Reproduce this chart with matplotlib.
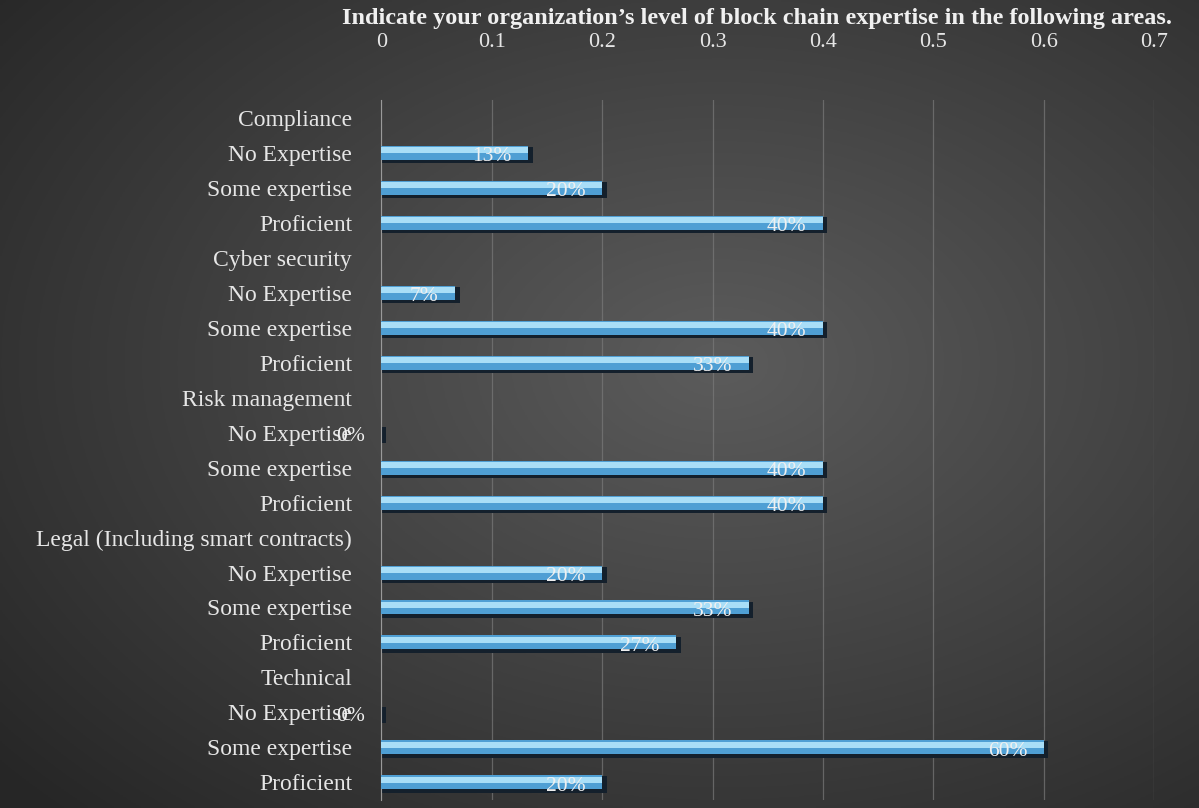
import numpy as np
import matplotlib.pyplot as plt

plt.rcParams["font.family"] = ["Liberation Serif", "DejaVu Serif"]

# 資料
標題 = "Indicate your organization\u2019s level of block chain expertise in the following areas."
類別 = [
    "Compliance", "No Expertise", "Some expertise", "Proficient",
    "Cyber security", "No Expertise", "Some expertise", "Proficient",
    "Risk management", "No Expertise", "Some expertise", "Proficient",
    "Legal (Including smart contracts)", "No Expertise", "Some expertise", "Proficient",
    "Technical", "No Expertise", "Some expertise", "Proficient",
]
# None = 群組標題列（沒有長條）
數值 = [
    None, 0.133, 0.2, 0.4,
    None, 0.067, 0.4, 0.333,
    None, 0.0, 0.4, 0.4,
    None, 0.2, 0.333, 0.267,
    None, 0.0, 0.6, 0.2,
]
刻度 = [0, 0.1, 0.2, 0.3, 0.4, 0.5, 0.6, 0.7]

文字色 = "#e6e6e6"

fig = plt.figure(figsize=(11.99, 8.08), dpi=100)

# 背景：放射狀漸層
bg = fig.add_axes([0, 0, 1, 1], zorder=-10)
yy, xx = np.mgrid[0:1:300j, 0:1:450j]
r = np.sqrt(((xx - 0.6) / 0.75) ** 2 + ((yy - 0.45) / 0.75) ** 2)
灰 = np.clip(0.36 - 0.20 * r, 0.15, 0.4)
bg.imshow(np.dstack([灰, 灰, 灰]), aspect="auto", extent=[0, 1, 0, 1])
bg.axis("off")

ax = fig.add_axes([0.318, 0.01, 0.6447, 0.866])
ax.patch.set_alpha(0)

位置 = np.arange(len(類別))
有值 = [i for i, v in enumerate(數值) if v is not None]
y = np.array([位置[i] for i in 有值])
v = np.array([數值[i] for i in 有值])

# 陰影、主體、亮面
ax.barh(y + 0.06, v + 0.004, height=0.46, color="#14202c", zorder=2)
ax.barh(y, v, height=0.40, color="#4f9fd4", zorder=3)
ax.barh(y - 0.07, v, height=0.17, color="#a9def7", zorder=4)

for yi, vi in zip(y, v):
    ax.annotate(
        f"{vi:.0%}",
        (vi, yi),
        xytext=(-12, -3),
        textcoords="offset points",
        ha="right",
        va="center",
        fontsize=15.5,
        color="#f0f0f0",
        zorder=5,
    )

ax.set_xlim(0, 0.7)
ax.set_ylim(len(類別) - 0.5, -0.5)
ax.set_xticks(刻度)
ax.set_xticklabels([f"{t:g}" for t in 刻度])
ax.xaxis.tick_top()
ax.set_yticks(位置)
ax.set_yticklabels(類別)
ax.tick_params(axis="x", length=0, pad=35, labelsize=16, labelcolor=文字色)
ax.tick_params(axis="y", length=0, pad=21, labelsize=17, labelcolor=文字色)

ax.grid(axis="x", color="#7a7a7a", linewidth=0.9, alpha=0.7)
ax.set_axisbelow(True)
for s in ["top", "right", "bottom"]:
    ax.spines[s].set_visible(False)
ax.spines["left"].set_color("#9a9a9a")

fig.text(0.631, 0.99, 標題, ha="center", va="top", fontsize=17.5,
         fontweight="bold", color="#f0f0f0")

fig.savefig("out.png", dpi=100)
